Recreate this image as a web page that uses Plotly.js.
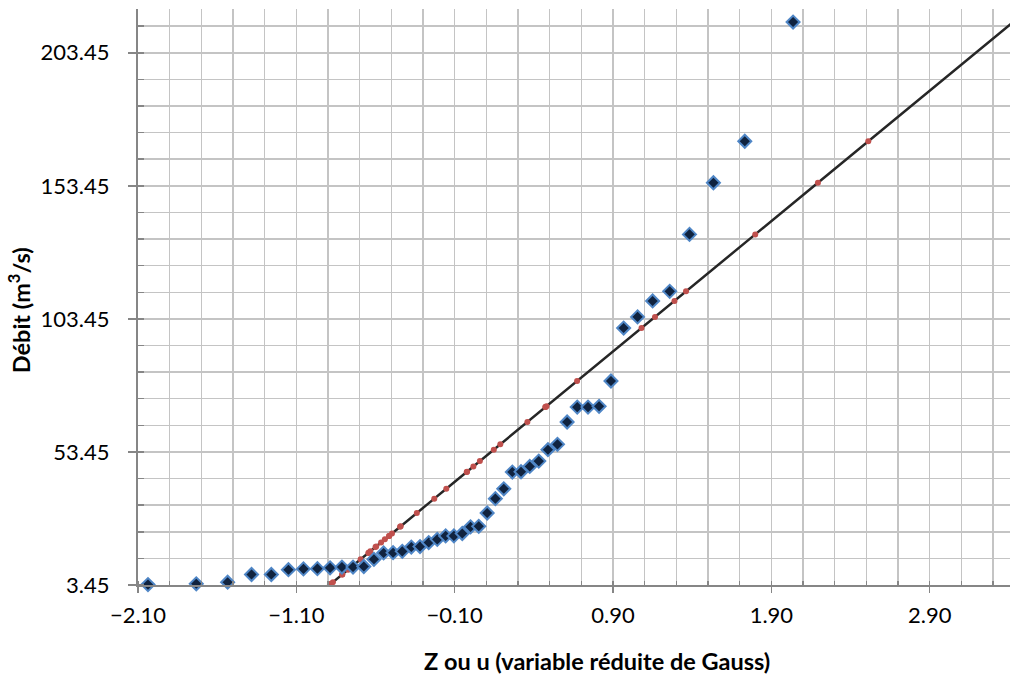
<!DOCTYPE html>
<html>
<head>
<meta charset="utf-8">
<script src="https://cdn.plot.ly/plotly-3.0.1.min.js"></script>
<style>html,body{margin:0;padding:0;background:#fff;}#chart{width:1012px;height:675px;}</style>
</head>
<body>
<div id="chart"></div>
<script>
// Observed discharges (sorted) vs. Gauss reduced variable
var zObserved = [-2.037,-1.732,-1.534,-1.383,-1.258,-1.150,-1.055,-0.967,-0.887,-0.812,-0.742,-0.674,-0.610,-0.549,-0.489,-0.431,-0.374,-0.319,-0.264,-0.210,-0.157,-0.105,-0.052,0.000,0.052,0.105,0.157,0.210,0.264,0.319,0.374,0.431,0.489,0.549,0.610,0.674,0.742,0.812,0.887,0.967,1.055,1.150,1.258,1.383,1.534,1.732,2.037];
var qObserved = [3.6,3.9,4.5,7.4,7.4,9.2,9.5,9.6,9.9,10.2,10.2,10.4,13.1,15.5,15.6,16.1,17.7,17.9,19.4,20.6,21.9,21.9,22.8,25.3,25.5,30.5,35.9,39.6,45.9,46.0,48.0,50.0,54.3,56.3,64.7,70.3,70.3,70.6,80.1,100.0,104.2,110.2,113.8,135.2,154.6,170.2,215.0];
// Theoretical (fitted normal law) points
var zTheoretical = [-0.888,-0.882,-0.869,-0.810,-0.810,-0.773,-0.767,-0.765,-0.759,-0.753,-0.753,-0.749,-0.694,-0.645,-0.643,-0.633,-0.600,-0.596,-0.565,-0.541,-0.514,-0.514,-0.496,-0.445,-0.441,-0.339,-0.229,-0.153,-0.024,-0.022,0.018,0.059,0.147,0.188,0.359,0.473,0.473,0.480,0.673,1.080,1.165,1.288,1.361,1.798,2.194,2.512,3.427];
var qTheoretical = qObserved;

var xTickLabelsStart = -2.10, xTickStep = 1.0, xMinorStep = 0.2;
var yTickLabelsStart = 3.45, yTickStep = 50, yMinorStep = 10;
var xTitle = 'Z ou u (variable réduite de Gauss)';
var yTitle = 'Débit (m<sup>3</sup>/s)';

var FONT = 'Lato, "Liberation Sans", sans-serif';
var GRID = '#C4C4C4';
var AXIS = '#868686';

var traces = [
  {
    x: zTheoretical, y: qTheoretical, type: 'scatter', mode: 'lines+markers',
    line: {color: '#262626', width: 2.5},
    marker: {color: '#C0504D', size: 6, line: {width: 0}},
    cliponaxis: true, showlegend: false, hoverinfo: 'x+y'
  },
  {
    x: zObserved, y: qObserved, type: 'scatter', mode: 'markers',
    marker: {symbol: 'diamond', color: '#10233F', size: 10, line: {color: '#4F86C6', width: 2}},
    cliponaxis: false, showlegend: false, hoverinfo: 'x+y'
  }
];

var layout = {
  width: 1012, height: 675,
  margin: {l: 138, r: 2, t: 9, b: 90},
  paper_bgcolor: '#fff', plot_bgcolor: '#fff',
  font: {family: FONT, size: 22, color: '#000'},
  showlegend: false,
  xaxis: {
    range: [-2.1, 3.407], tick0: xTickLabelsStart, dtick: xTickStep, tickformat: '.2f',
    showgrid: true, gridcolor: GRID, gridwidth: 1.5,
    showline: true, linecolor: AXIS, linewidth: 2,
    ticks: 'outside', ticklen: 6, tickwidth: 1.5, tickcolor: AXIS,
    ticklabelstandoff: 4,
    minor: {dtick: xMinorStep, tick0: xTickLabelsStart, showgrid: true, gridcolor: GRID, gridwidth: 1.5, ticks: 'inside', ticklen: 4, tickcolor: AXIS, tickwidth: 1.5},
    zeroline: false, automargin: false,
    tickfont: {family: FONT, size: 22, color: '#000'}
  },
  yaxis: {
    range: [3.45, 219.9], tick0: yTickLabelsStart, dtick: yTickStep, tickformat: '.2f',
    showgrid: true, gridcolor: GRID, gridwidth: 1.5,
    showline: true, linecolor: AXIS, linewidth: 2,
    ticks: 'outside', ticklen: 8, tickwidth: 1.5, tickcolor: AXIS,
    ticklabelstandoff: 14,
    minor: {dtick: yMinorStep, tick0: yTickLabelsStart, showgrid: true, gridcolor: GRID, gridwidth: 1.5, ticks: 'inside', ticklen: 6, tickcolor: AXIS, tickwidth: 1.5},
    zeroline: false, automargin: false,
    tickfont: {family: FONT, size: 22, color: '#000'}
  },
  annotations: [
    {text: xTitle, xref: 'paper', yref: 'paper', x: 0.526, y: -0.132, xanchor: 'center', yanchor: 'middle',
     showarrow: false, font: {family: FONT, size: 23.5, color: '#000', weight: 'bold'}},
    {text: yTitle, xref: 'paper', yref: 'paper', x: -0.1365, y: 0.477, xanchor: 'center', yanchor: 'middle',
     textangle: -90, showarrow: false, font: {family: FONT, size: 23.5, color: '#000', weight: 'bold'}}
  ]
};

Plotly.newPlot('chart', traces, layout, {staticPlot: true, displayModeBar: false});
</script>
</body>
</html>
